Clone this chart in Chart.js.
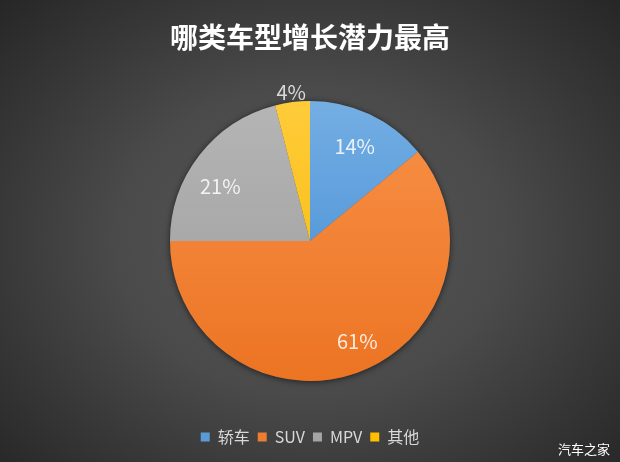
<!DOCTYPE html>
<html>
<head>
<meta charset="utf-8">
<script src="https://cdn.jsdelivr.net/npm/chart.js@4/dist/chart.umd.min.js"></script>
<style>
  html, body { margin:0; padding:0; }
  #wrap {
    position:relative; width:620px; height:462px;
    background: radial-gradient(ellipse 70% 75% at 50% 52%, #595959 0%, #4a4a4a 45%, #363636 75%, #262626 100%);
  }
  canvas { display:block; }
</style>
</head>
<body>
<div id="wrap"><canvas id="c" width="620" height="462"></canvas></div>
<script>
// ===== データ =====
const titleText = '哪类车型增长潜力最高';
const categories = ['轿车', 'SUV', 'MPV', '其他'];
const shares = [14, 61, 21, 4]; // %
const watermark = '汽车之家';

// 色（上:明るい / 下:暗い）
const colorsTop = ['#74aee3', '#f89148', '#b5b5b5', '#ffcb3a'];
const colorsBottom = ['#3c88d2', '#ec7423', '#9c9c9c', '#f6b800'];
const legendColors = ['#5b9bd5', '#ed7d31', '#a5a5a5', '#ffc000'];
// ラベル位置の微調整（角度・度, 半径比）
const labelAngleShift = [0, -5.5, -6.5, 0];
const labelRadius = [0.75, 0.79, 0.75, 1.07];

const FONT = '"Noto Sans CJK SC", "Noto Sans", sans-serif';

function sliceGradient(ctx){
  const chart = ctx.chart;
  const area = chart.chartArea;
  if (!area) return legendColors[ctx.dataIndex];
  const g = chart.ctx.createLinearGradient(0, area.top, 0, area.bottom);
  g.addColorStop(0, colorsTop[ctx.dataIndex]);
  g.addColorStop(1, colorsBottom[ctx.dataIndex]);
  return g;
}

// 影 + ラベル + 透かし
const piePlugin = {
  id: 'piePlugin',
  beforeDatasetsDraw(chart){
    const arc = chart.getDatasetMeta(0).data[0];
    if (!arc) return;
    const c = chart.ctx;
    c.save();
    c.shadowColor = 'rgba(0,0,0,0.6)';
    c.shadowBlur = 6;
    c.shadowOffsetY = 1;
    c.fillStyle = '#555';
    c.beginPath();
    c.arc(arc.x, arc.y, arc.outerRadius, 0, Math.PI*2);
    c.fill();
    c.restore();
  },
  afterDatasetsDraw(chart){
    const c = chart.ctx;
    const meta = chart.getDatasetMeta(0);
    c.save();
    c.textAlign = 'center';
    c.textBaseline = 'middle';
    c.font = '20px ' + FONT;
    meta.data.forEach((arc, i)=>{
      const mid = (arc.startAngle + arc.endAngle) / 2 + labelAngleShift[i] * Math.PI / 180;
      const outside = labelRadius[i] > 1;
      const r = arc.outerRadius * labelRadius[i];
      const x = arc.x + Math.cos(mid) * r;
      const y = arc.y + Math.sin(mid) * r;
      c.fillStyle = outside ? '#d9d9d9' : 'rgba(255,255,255,0.85)';
      c.fillText(shares[i] + '%', x, y);
    });
    c.restore();
  },
  afterDraw(chart){
    const c = chart.ctx;
    c.save();
    c.font = '13px ' + FONT;
    c.fillStyle = '#ffffff';
    c.textAlign = 'right';
    c.textBaseline = 'middle';
    c.fillText(watermark, chart.width - 10, 449);
    c.restore();
  }
};

new Chart(document.getElementById('c').getContext('2d'), {
  type: 'pie',
  data: {
    labels: categories,
    datasets: [{
      data: shares,
      backgroundColor: sliceGradient,
      borderWidth: 0,
      hoverOffset: 0
    }]
  },
  options: {
    responsive: false,
    animation: false,
    layout: { padding: { top: 0, bottom: 7, left: 0, right: 0 } },
    plugins: {
      title: {
        display: true,
        text: titleText,
        color: '#ffffff',
        font: { family: FONT, size: 28, weight: 'bold', lineHeight: 1.2 },
        padding: { top: 21, bottom: 46.4 }
      },
      legend: {
        position: 'bottom',
        title: { display: true, text: ' ', font: { size: 10, lineHeight: 1 }, padding: { top: 30, bottom: 0 } },
        labels: {
          color: '#d9d9d9',
          font: { family: FONT, size: 16 },
          boxWidth: 9,
          boxHeight: 9,
          padding: 8,
          generateLabels(chart){
            return categories.map((name, i)=>({
              text: name,
              fillStyle: legendColors[i],
              strokeStyle: legendColors[i],
              lineWidth: 0,
              fontColor: '#d9d9d9',
              index: i,
              hidden: false
            }));
          }
        }
      },
      tooltip: { enabled: false }
    }
  },
  plugins: [piePlugin]
});
</script>
</body>
</html>
